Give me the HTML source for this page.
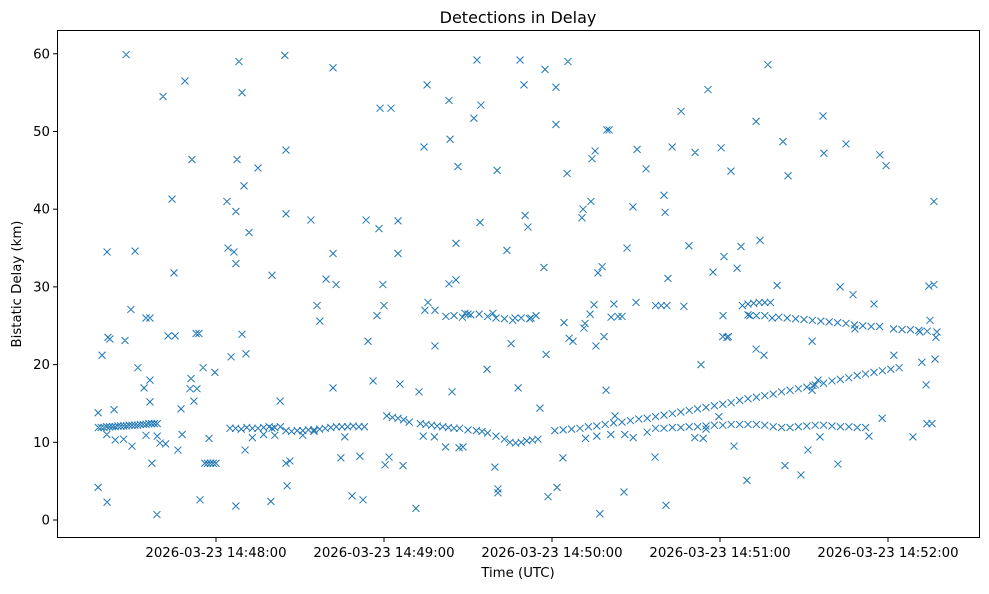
<!DOCTYPE html>
<html><head><meta charset="utf-8"><style>
body{margin:0;background:#fff;font-family:"DejaVu Sans","Liberation Sans",sans-serif;}
svg text{font-family:"DejaVu Sans","Liberation Sans",sans-serif;fill:#000;}
</style></head><body>
<svg id="chart" width="989" height="590" xmlns="http://www.w3.org/2000/svg">
<rect width="989" height="590" fill="#fff"/>
<text x="518" y="23" font-size="16" text-anchor="middle">Detections in Delay</text>
<g id="marks"></g>
<rect x="57.5" y="30.5" width="922" height="507" fill="none" stroke="#000" stroke-width="1"/>
<g id="yticks"></g>
<g id="xticks"></g>
<text x="518" y="577" font-size="13.3" text-anchor="middle">Time (UTC)</text>
<text transform="translate(21,284) rotate(-90)" font-size="13.3" text-anchor="middle">Bistatic Delay (km)</text>
</svg>
<script>
// time in seconds (chart-relative), delay in km
const outliers = [[22.9,4.2],[22.9,13.8],[24.3,21.2],[26.1,34.5],[26.4,23.5],[27.1,23.3],[26.1,2.3],[28.6,14.2],[32.9,59.9],[32.5,23.1],[34.6,27.1],[36.1,34.6],[37.1,19.6],[39.3,17],[40,26],[41.4,26],[41.4,15.2],[41.4,18],[42.1,7.3],[43.9,0.7],[46.1,54.5],[47.9,23.7],[49.3,41.3],[50,31.8],[50.4,23.7],[51.4,9],[52.5,14.3],[52.9,11],[53.9,56.5],[55.7,16.9],[56.1,18.2],[56.4,46.4],[57.1,15.3],[57.9,24],[58.9,24],[58.2,16.9],[59.3,2.6],[60.4,19.6],[62.5,10.5],[64.6,19],[68.9,41],[69.3,35],[70.4,21],[71.4,34.5],[72.1,39.7],[72.1,33],[72.1,1.8],[72.5,46.4],[73.2,59],[74.3,55],[74.3,23.9],[75,43],[75.7,21.4],[75.4,9],[76.8,37],[80,45.3],[85,31.5],[84.6,2.4],[87.9,15.3],[89.6,59.8],[90,47.6],[90,39.4],[90,7.3],[90.4,4.4],[91.4,7.6],[98.9,38.6],[101.1,27.6],[102.1,25.6],[104.3,31],[106.8,58.2],[106.8,34.3],[106.8,17],[107.9,30.3],[109.6,8],[113.6,3.1],[116.4,8.2],[117.5,2.6],[118.6,38.6],[119.3,23],[121.1,17.9],[122.5,26.3],[123.2,37.5],[123.6,53],[124.6,30.3],[125,27.6],[125.4,7.1],[126.8,8.1],[127.5,53],[130,38.5],[130,34.3],[130.7,17.5],[131.8,7],[136.4,1.5],[137.5,16.5],[139.3,48],[139.6,27],[140.4,56],[140.7,28],[143.2,22.4],[143.2,27],[147.1,26.2],[148.2,30.4],[148.2,54],[148.6,49],[149.3,16.5],[150.7,35.6],[150.7,30.9],[151.4,45.5],[151.8,9.3],[153.2,9.4],[153.9,26.6],[155,26.5],[157.1,51.7],[158.2,59.2],[159.3,38.3],[159.6,53.4],[161.8,19.4],[163.9,26.6],[164.6,6.8],[165.4,45],[165.7,4],[165.7,3.5],[168.9,34.7],[170.4,22.7],[171.8,26],[172.9,17],[173.6,59.2],[175,56],[175.4,39.2],[176.4,37.7],[177.5,26],[179.3,26.3],[180.7,14.4],[182.1,32.5],[182.9,21.3],[182.5,58],[183.6,3],[186.4,55.7],[186.4,50.9],[186.8,4.2],[188.9,8],[189.3,25.4],[190.4,44.6],[190.7,59],[191.1,23.4],[192.5,23],[195.7,38.9],[196.1,40],[196.4,24.7],[196.8,25.3],[198.6,26.5],[198.9,41],[199.3,46.5],[200,27.7],[200.4,47.5],[200.7,22.4],[201.4,31.8],[202.1,0.8],[202.9,32.6],[203.6,23.6],[204.3,16.7],[204.6,50.2],[205.4,50.2],[206.1,26.1],[207.1,27.8],[207.5,13.4],[208.6,26.2],[210,26.2],[210.7,3.6],[211.8,35],[213.9,40.3],[215,28],[215.4,47.7],[218.6,45.2],[221.8,8.1],[225,41.8],[225.4,39.6],[225.7,1.9],[226.4,31.1],[227.9,48],[231.1,52.6],[232.1,27.5],[233.9,35.3],[236.1,47.3],[238.2,20],[240,11.7],[240.7,55.4],[242.5,31.9],[244.6,13.3],[245.4,47.9],[246.1,26.3],[246.4,33.9],[247.5,23.5],[248.9,44.9],[250,9.5],[251.1,32.4],[252.5,35.2],[254.6,5.1],[255.7,26.3],[257.9,51.3],[257.9,22],[259.3,36],[260.7,21.2],[262.1,58.6],[263.6,26],[265.4,30.2],[267.5,48.7],[268.2,7],[269.3,44.3],[273.9,5.8],[276.4,9],[277.9,23],[277.9,16.7],[278.2,17.3],[280,18],[280.7,10.7],[281.8,52],[282.1,47.2],[287.1,7.2],[287.9,30],[290,48.4],[292.5,29],[293.2,24.6],[298.2,10.8],[300,27.8],[302.1,47],[302.9,13.1],[304.3,45.6],[307.1,21.2],[313.9,10.7],[316.4,24.2],[317.1,20.3],[318.6,17.4],[318.9,12.4],[319.6,30.1],[320,25.7],[320.7,12.4],[321.4,41],[321.4,30.3],[321.8,20.7],[322.1,23.5],[322.5,24.2],[26,11],[29,10.3],[32,10.4],[35,9.5],[40,10.9],[44,10.8],[45,9.9],[47,9.8],[139,10.8],[143,10.7],[147,9.4],[197,10.5],[201,10.8],[206,11],[211,11],[214,10.6],[219,11.3],[236,10.6],[239,10.5],[78,10.6],[82,11],[86,10.9],[96,10.9],[100,11.4],[111,10.7]];
const bandEarly = [[23,11.9],[24,11.9],[25,11.9],[26,12],[27,12],[28,12],[29,12],[30,12.1],[31,12.1],[32,12.1],[33,12.1],[34,12.2],[35,12.2],[36,12.2],[37,12.2],[38,12.3],[39,12.3],[40,12.3],[41,12.4],[42,12.4],[43,12.4],[44,12.4]];
const band7 = [[61,7.3],[62,7.3],[63,7.3],[64,7.3],[65,7.3]];
const bandMid = [[70,11.8],[72,11.8],[74,11.7],[76,11.9],[78,11.8],[80,11.8],[82,11.9],[84,12],[85,11.8],[86,11.9],[88,12],[90,11.5],[92,11.4],[94,11.5],[96,11.5],[98,11.6],[100,11.6],[102,11.7],[104,11.8],[106,11.9],[108,12],[110,12],[112,12],[114,12.1],[116,12],[118,12]];
const bandDesc = [[126,13.4],[128,13.2],[130,13.1],[132,12.9],[134,12.6],[138,12.4],[140,12.3],[142,12.2],[144,12.1],[146,12],[148,11.9],[150,11.8],[152,11.8],[155,11.6],[158,11.5],[160,11.4],[162,11.2],[165,10.8],[168,10.4],[170,10],[172,9.9],[174,10],[176,10.2],[178,10.3],[180,10.4]];
const bandRise = [[186,11.5],[189,11.6],[192,11.7],[195,11.8],[198,12],[201,12.1],[204,12.3],[207,12.5],[210,12.6],[213,12.8],[216,13],[219,13.1],[222,13.3],[225,13.5],[228,13.7],[231,13.9],[234,14.1],[237,14.3],[240,14.5],[243,14.7],[246,14.9],[249,15.1],[252,15.4],[255,15.6],[258,15.8],[261,16],[264,16.2],[267,16.5],[270,16.7],[273,16.9],[276,17.1],[279,17.4],[282,17.6],[285,17.9],[288,18.1],[291,18.3],[294,18.6],[297,18.8],[300,19],[303,19.2],[306,19.4],[309,19.6]];
const bandFlat = [[222,11.8],[225,11.8],[228,11.9],[231,11.9],[234,12],[237,12],[240,12.1],[243,12.2],[246,12.2],[249,12.3],[252,12.3],[255,12.3],[258,12.3],[261,12.2],[264,12],[267,11.9],[270,11.9],[273,12],[276,12.1],[279,12.2],[282,12.2],[285,12.1],[288,12],[291,12],[294,11.9],[297,11.9]];
const bandHigh = [[253,27.6],[255,27.8],[257,27.9],[259,28],[261,28],[263,28],[255,26.4],[258,26.3],[261,26.3],[266,26.1],[269,26],[272,25.9],[275,25.8],[278,25.7],[281,25.6],[284,25.5],[287,25.4],[290,25.3],[293,25.1],[296,25],[299,24.9],[302,24.9],[307,24.6],[310,24.5],[313,24.5],[316,24.4],[319,24.3]];
const band26 = [[150,26.3],[153,26.1],[156,26.4],[159,26.5],[162,26.2],[165,26],[168,25.9],[171,25.7],[174,26],[177,25.9],[222,27.6],[224,27.6],[226,27.6],[246,23.6],[248,23.6]];
const yTicks = [0,10,20,30,40,50,60];
const xTicks = [65,125,185,245,305];
const xTickLabels = ["2026-03-23 14:48:00","2026-03-23 14:49:00","2026-03-23 14:50:00","2026-03-23 14:51:00","2026-03-23 14:52:00"];

const NS="http://www.w3.org/2000/svg";
function xs(t){return 34+2.8*t;}
function ys(d){return 520-7.77*d;}
const marks=document.getElementById('marks');
const all=[].concat(outliers,bandEarly,band7,bandMid,bandDesc,bandRise,bandFlat,bandHigh,band26);
let dstr="";
all.forEach(p=>{const x=xs(p[0]),y=ys(p[1]);const r=3.5;
dstr+=`M${x-r},${y-r}L${x+r},${y+r}M${x-r},${y+r}L${x+r},${y-r}`;});
const path=document.createElementNS(NS,'path');
path.setAttribute('d',dstr);path.setAttribute('stroke','#1f77b4');path.setAttribute('stroke-width','1');path.setAttribute('fill','none');


marks.appendChild(path);

const yg=document.getElementById('yticks');
yTicks.forEach(v=>{const y=ys(v);
const l=document.createElementNS(NS,'line');l.setAttribute('x1',53);l.setAttribute('x2',57.5);l.setAttribute('y1',y);l.setAttribute('y2',y);l.setAttribute('stroke','#000');


yg.appendChild(l);
const t=document.createElementNS(NS,'text');t.setAttribute('x',50);t.setAttribute('y',y+4.5);t.setAttribute('font-size','13.3');t.setAttribute('text-anchor','end');t.textContent=v;


yg.appendChild(t);});
const xg=document.getElementById('xticks');
xTicks.forEach((v,i)=>{const x=xs(v);
const l=document.createElementNS(NS,'line');l.setAttribute('x1',x);l.setAttribute('x2',x);l.setAttribute('y1',537.5);l.setAttribute('y2',542);l.setAttribute('stroke','#000');


xg.appendChild(l);
const t=document.createElementNS(NS,'text');t.setAttribute('x',x);t.setAttribute('y',557);t.setAttribute('font-size','13.3');t.setAttribute('text-anchor','middle');t.textContent=xTickLabels[i];


xg.appendChild(t);});
</script>
</body></html>
